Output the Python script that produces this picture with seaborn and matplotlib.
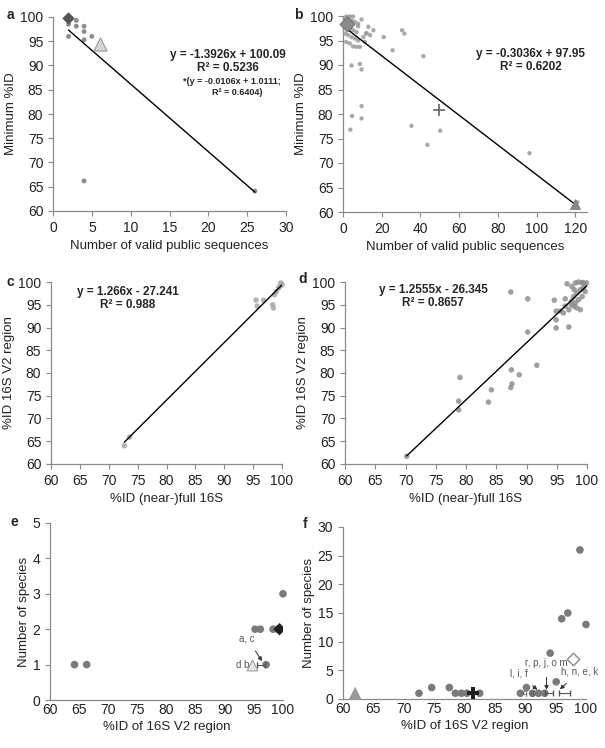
import numpy as np
import pandas as pd
import matplotlib.pyplot as plt
import seaborn as sns

# ---------------- data ----------------
# a: minimum %ID vs number of valid public sequences (small dataset)
a_n_seqs = [2, 2, 2, 3, 3, 4, 4, 4, 5, 4, 26]
a_min_id = [99.5, 98.5, 96.0, 99.3, 98.1, 98.1, 97.0, 95.3, 96.0, 66.2, 64.1]
a_diamond_x, a_diamond_y = [2.0], [99.7]
a_triangle_x, a_triangle_y = [6.0], [94.5]
a_fit = (-1.3926, 100.09)

# b: minimum %ID vs number of valid public sequences (large dataset)
b_n_seqs = [1.7, 3.5, 5.2, 0.9, 2.6, 4.4, 6.1, 1.7, 3.5, 5.2, 7.0, 0.9, 2.6, 4.4,
            6.1, 7.8, 1.7, 3.5, 5.2, 7.0, 8.7, 11.3, 10.5, 12.2, 7.8, 9.6, 7.8,
            13.1, 15.7, 11.9, 14.0, 21.0, 25.6, 30.5, 31.7, 41.5, 4.4, 8.7, 9.6,
            9.6, 4.7, 9.6, 3.8, 35.4, 50.2, 43.6, 96.3, 121.0]
b_min_id = [99.9, 99.9, 99.9, 99.5, 99.7, 99.1, 98.8, 97.8, 97.4, 97.1, 96.7, 96.4,
            96.1, 95.7, 95.4, 95.0, 94.7, 94.4, 93.8, 93.7, 93.7, 94.7, 95.7, 96.5,
            97.9, 99.3, 98.4, 97.8, 97.1, 96.4, 96.1, 95.7, 93.0, 97.1, 96.4, 91.8,
            89.9, 90.2, 89.1, 81.6, 79.6, 79.1, 76.8, 77.6, 76.6, 73.7, 72.0, 62.0]
b_diamond_x, b_diamond_y = [2.3], [98.4]
b_cross_x, b_cross_y = [49.4], [80.8]
b_triangle_x, b_triangle_y = [120.0], [61.6]
b_fit = (-0.3036, 97.95)

# c: %ID V2 region vs %ID (near-)full 16S (small dataset)
c_full = [72.7, 73.6, 95.5, 95.7, 96.8, 98.4, 98.5, 98.7, 99.0, 99.4, 99.8, 100.0, 99.6]
c_v2 = [64.0, 65.9, 96.0, 94.7, 96.0, 95.0, 94.3, 97.2, 97.9, 98.7, 99.8, 99.4, 99.0]
c_fit = (1.266, -27.241)

# d: %ID V2 region vs %ID (near-)full 16S (large dataset)
d_full = [70.2, 78.8, 78.8, 79.0, 83.7, 84.2, 87.4, 87.5, 87.6, 87.4, 88.8, 90.2,
          90.2, 91.7, 94.6, 94.9, 94.9, 94.9, 97.0, 96.7, 96.4, 96.4, 95.6, 96.1,
          97.5, 98.1, 98.6, 99.2, 99.7, 99.4, 98.9, 98.3, 97.8, 97.5, 98.1, 98.6,
          99.2, 99.7, 97.8, 98.3, 97.4, 98.9, 97.0, 97.9, 99.3, 99.9]
d_v2 = [61.7, 73.8, 71.9, 79.0, 73.6, 76.3, 97.8, 80.7, 77.6, 76.8, 79.6, 96.3,
        89.0, 81.7, 96.0, 93.6, 91.7, 89.9, 90.1, 99.6, 96.3, 94.7, 93.6, 93.2,
        99.0, 99.8, 100.0, 99.8, 99.4, 98.7, 98.3, 97.6, 96.8, 95.8, 95.4, 96.1,
        96.8, 97.9, 94.7, 94.3, 95.0, 93.9, 93.9, 98.3, 99.9, 99.8]
d_fit = (1.2555, -26.345)

# e: number of species vs %ID of V2 region (small dataset)
e_v2 = [64.2, 66.3, 95.2, 96.1, 98.3, 99.1, 100.0, 97.1]
e_species = [1, 1, 2, 2, 2, 2, 3, 1]
e_diamond_x, e_diamond_y = [99.4], [2]
e_triangle_x, e_triangle_y = [94.7], [1]
e_err_x, e_err_y, e_err_half = [96.3], [1], [0.68]

# f: number of species vs %ID of V2 region (large dataset)
f_v2 = [72.5, 74.6, 77.5, 78.5, 79.5, 80.4, 82.5, 89.2, 90.2, 91.2, 92.2, 93.2,
        94.1, 95.1, 96.0, 97.0, 99.0, 100.0]
f_species = [1, 2, 2, 1, 1, 1, 1, 1, 2, 1, 1, 1, 8, 3, 14, 15, 26, 13]
f_triangle_x, f_triangle_y = [62.0], [1]
f_cross_x, f_cross_y = [81.4], [1]
f_diamond_x, f_diamond_y = [97.9], [7]
f_err_x, f_err_y, f_err_half = [93.95, 96.45], [1, 1], [0.65, 0.85]

# ---------------- style ----------------
sns.set_style("ticks")
plt.rcParams["font.family"] = ["Liberation Sans", "DejaVu Sans"]
plt.rcParams["axes.edgecolor"] = "#8a8a8a"
plt.rcParams["xtick.color"] = "#8a8a8a"
plt.rcParams["ytick.color"] = "#8a8a8a"
plt.rcParams["xtick.labelcolor"] = "#222222"
plt.rcParams["ytick.labelcolor"] = "#222222"

LBL = 9.5
TCK = 10
EQ = 8.5
NOTE = 7

fig = plt.figure(figsize=(6.05, 7.48), dpi=100)
W, H = 605, 748


def box(l, t, r, b):
    # pixel box -> figure fraction
    return [l / W, 1 - b / H, (r - l) / W, (b - t) / H]


ax_a = fig.add_axes(box(53, 17, 286, 211))
ax_b = fig.add_axes(box(343, 16, 587, 212))
ax_c = fig.add_axes(box(51, 282, 282, 464))
ax_d = fig.add_axes(box(345, 282, 587, 464))
ax_e = fig.add_axes(box(50, 523, 283, 700))
ax_f = fig.add_axes(box(343, 527, 586, 699))


def style(ax, xlim, ylim, xticks, yticks, xlabel, ylabel, xpad=3.5, xlen=3.5):
    ax.set_xlim(*xlim)
    ax.set_ylim(*ylim)
    ax.set_xticks(xticks)
    ax.set_yticks(yticks)
    ax.set_xlabel(xlabel, fontsize=LBL, color="#222222")
    ax.set_ylabel(ylabel, fontsize=LBL, color="#222222", labelpad=2)
    ax.tick_params(axis="x", labelsize=TCK, length=xlen, width=0.8, pad=xpad)
    ax.tick_params(axis="y", labelsize=TCK, length=3.5, width=0.8)
    sns.despine(ax=ax)
    for s in ("left", "bottom"):
        ax.spines[s].set_linewidth(0.9)


def fit_line(ax, xs, fit):
    xr = np.array([min(xs), max(xs)])
    sns.lineplot(x=xr, y=fit[0] * xr + fit[1], ax=ax, color="black", lw=1.0, zorder=4)


# ---- a ----
sns.scatterplot(x=a_n_seqs, y=a_min_id, ax=ax_a, color="#8c8c8c", s=12,
                edgecolor="none", zorder=3)
sns.scatterplot(x=a_diamond_x, y=a_diamond_y, ax=ax_a, marker="D", color="#555555",
                s=40, edgecolor="none", zorder=5, clip_on=False)
sns.scatterplot(x=a_triangle_x, y=a_triangle_y, ax=ax_a, marker="^", color="#d6d6d6",
                s=90, edgecolor="#9a9a9a", linewidth=0.8, zorder=5)
fit_line(ax_a, a_n_seqs + a_diamond_x, a_fit)
style(ax_a, (0, 30), (60, 100), range(0, 31, 5), range(60, 101, 5),
      "Number of valid public sequences", "Minimum %ID")
ax_a.text(0.75, 0.805, "y = -1.3926x + 100.09", transform=ax_a.transAxes,
          ha="center", va="center", fontsize=EQ, fontweight="bold")
ax_a.text(0.75, 0.738, "R² = 0.5236", transform=ax_a.transAxes,
          ha="center", va="center", fontsize=EQ, fontweight="bold")
ax_a.text(0.77, 0.665, "*(y = -0.0106x + 1.0111;", transform=ax_a.transAxes,
          ha="center", va="center", fontsize=6.5, fontweight="bold")
ax_a.text(0.79, 0.613, "R² = 0.6404)", transform=ax_a.transAxes,
          ha="center", va="center", fontsize=6.5, fontweight="bold")

# ---- b ----
sns.scatterplot(x=b_n_seqs, y=b_min_id, ax=ax_b, color="#9a9a9a", s=10,
                edgecolor="none", alpha=0.85, zorder=3, clip_on=False)
sns.scatterplot(x=b_diamond_x, y=b_diamond_y, ax=ax_b, marker="D", color="#8a8a8a",
                s=60, edgecolor="#6e6e6e", zorder=5, clip_on=False)
sns.scatterplot(x=b_cross_x, y=b_cross_y, ax=ax_b, marker="+", color="#666666",
                s=80, linewidth=1.2, zorder=5)
sns.scatterplot(x=b_triangle_x, y=b_triangle_y, ax=ax_b, marker="^", color="#8a8a8a",
                s=50, edgecolor="#777777", zorder=5, clip_on=False)
fit_line(ax_b, [1.5, 121.0], b_fit)
style(ax_b, (0, 126), (60, 100), range(0, 121, 20), range(60, 101, 5),
      "Number of valid public sequences", "Minimum %ID")
ax_b.text(0.77, 0.806, "y = -0.3036x + 97.95", transform=ax_b.transAxes,
          ha="center", va="center", fontsize=EQ, fontweight="bold")
ax_b.text(0.77, 0.740, "R² = 0.6202", transform=ax_b.transAxes,
          ha="center", va="center", fontsize=EQ, fontweight="bold")

# ---- c ----
sns.scatterplot(x=c_full, y=c_v2, ax=ax_c, color="#a8a8a8", s=16,
                edgecolor="none", alpha=0.85, zorder=3, clip_on=False)
fit_line(ax_c, c_full, c_fit)
style(ax_c, (60, 100), (60, 100), range(60, 101, 5), range(60, 101, 5),
      "%ID (near-)full 16S", "%ID 16S V2 region")
ax_c.text(0.333, 0.945, "y = 1.266x - 27.241", transform=ax_c.transAxes,
          ha="center", va="center", fontsize=EQ, fontweight="bold")
ax_c.text(0.333, 0.874, "R² = 0.988", transform=ax_c.transAxes,
          ha="center", va="center", fontsize=EQ, fontweight="bold")

# ---- d ----
sns.scatterplot(x=d_full, y=d_v2, ax=ax_d, color="#8f8f8f", s=16,
                edgecolor="none", alpha=0.85, zorder=3, clip_on=False)
fit_line(ax_d, d_full, d_fit)
style(ax_d, (60, 100), (60, 100), range(60, 101, 5), range(60, 101, 5),
      "%ID (near-)full 16S", "%ID 16S V2 region")
ax_d.text(0.364, 0.956, "y = 1.2555x - 26.345", transform=ax_d.transAxes,
          ha="center", va="center", fontsize=EQ, fontweight="bold")
ax_d.text(0.364, 0.885, "R² = 0.8657", transform=ax_d.transAxes,
          ha="center", va="center", fontsize=EQ, fontweight="bold")

# ---- e ----
sns.scatterplot(x=e_v2, y=e_species, ax=ax_e, color="#7a7a7a", s=30,
                edgecolor="none", zorder=3, clip_on=False)
sns.scatterplot(x=e_diamond_x, y=e_diamond_y, ax=ax_e, marker="D", color="#1e1e1e",
                s=40, edgecolor="none", zorder=5)
sns.scatterplot(x=e_triangle_x, y=e_triangle_y, ax=ax_e, marker="^", color="#e8e8e8",
                s=60, edgecolor="#a0a0a0", linewidth=0.8, zorder=5)
ax_e.errorbar(e_err_x, e_err_y, xerr=e_err_half, fmt="none", ecolor="#555555",
              elinewidth=0.8, capsize=2.5, zorder=4)
ax_e.text(93.1, 1.0, "d b", fontsize=NOTE, color="#555555", ha="center", va="center")
ax_e.annotate("a, c", xy=(96.4, 1.1), xytext=(93.8, 1.75), fontsize=NOTE,
              color="#555555", ha="center", va="center",
              arrowprops=dict(arrowstyle="-|>", color="#333333", lw=0.7,
                              mutation_scale=6, shrinkA=4, shrinkB=0))
style(ax_e, (60, 100), (0, 5), range(60, 101, 5), range(0, 6, 1),
      "%ID of 16S V2 region", "Number of species", xpad=2, xlen=0)
ax_e.xaxis.labelpad = 3

# ---- f ----
sns.scatterplot(x=f_v2, y=f_species, ax=ax_f, color="#7a7a7a", s=30,
                edgecolor="none", zorder=3, clip_on=False)
sns.scatterplot(x=f_triangle_x, y=f_triangle_y, ax=ax_f, marker="^", color="#9a9a9a",
                s=90, edgecolor="none", zorder=5, clip_on=False)
sns.scatterplot(x=f_cross_x, y=f_cross_y, ax=ax_f, marker="P", color="#1e1e1e",
                s=70, edgecolor="none", zorder=5)
sns.scatterplot(x=f_diamond_x, y=f_diamond_y, ax=ax_f, marker="D", color="white",
                s=40, edgecolor="#8a8a8a", linewidth=1.0, zorder=5)
ax_f.errorbar(f_err_x, f_err_y, xerr=f_err_half, fmt="none", ecolor="#555555",
              elinewidth=0.8, capsize=2.5, zorder=4)
ax_f.text(90.6, 1.0, "q g", fontsize=6, color="#555555", ha="center", va="center")
arrow = dict(arrowstyle="-|>", color="#333333", lw=0.7, mutation_scale=6,
             shrinkA=4, shrinkB=0)
ax_f.annotate("l, i, f", xy=(92.0, 1.6), xytext=(88.9, 4.4), fontsize=NOTE,
              color="#555555", ha="center", va="center", arrowprops=arrow)
ax_f.annotate("r, p, j, o m", xy=(93.5, 1.6), xytext=(93.5, 6.2), fontsize=NOTE,
              color="#555555", ha="center", va="center", arrowprops=arrow)
ax_f.annotate("h, n, e, k", xy=(95.7, 1.7), xytext=(99.0, 4.8), fontsize=NOTE,
              color="#555555", ha="center", va="center", arrowprops=arrow)
style(ax_f, (60, 100), (0, 30), range(60, 101, 5), range(0, 31, 5),
      "%ID of 16S V2 region", "Number of species", xpad=2, xlen=0)
ax_f.xaxis.labelpad = 3

# panel letters
for letter, (px, py) in {"a": (10, 15), "b": (298, 15), "c": (10, 282),
                         "d": (303, 279), "e": (14, 522), "f": (305, 524)}.items():
    fig.text(px / W, 1 - py / H, letter, fontsize=10, fontweight="bold",
             ha="center", va="center")

fig.savefig("out.png", dpi=100)
